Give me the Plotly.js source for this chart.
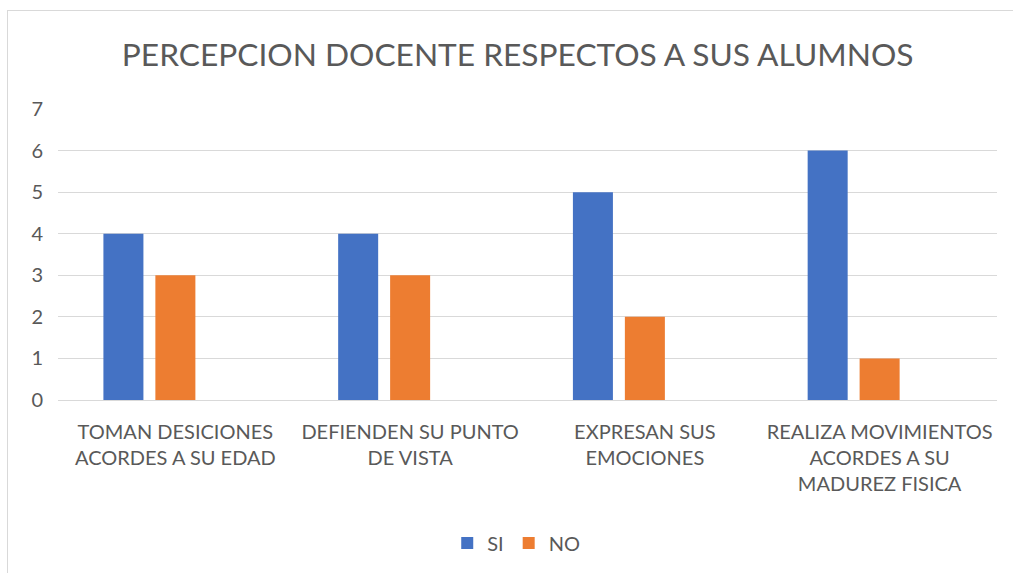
<!DOCTYPE html>
<html>
<head>
<meta charset="utf-8">
<script src="https://cdn.plot.ly/plotly-3.0.1.min.js"></script>
<style>
  html, body { margin: 0; padding: 0; background: #ffffff; }
  #wrap { position: absolute; left: 0; top: 0; width: 1013px; height: 573px; overflow: hidden; }
  #frame { position: absolute; left: 7px; top: 10px; width: 1020px; height: 580px; border: 1px solid #d9d9d9; box-sizing: border-box; pointer-events: none; }
  #chart { position: absolute; left: 0; top: 0; width: 1013px; height: 573px; }
</style>
</head>
<body>
<div id="wrap">
  <div id="chart"></div>
  <div id="frame"></div>
</div>
<script>
const categories = [
  "TOMAN DESICIONES<br>ACORDES A SU EDAD",
  "DEFIENDEN SU PUNTO<br>DE VISTA",
  "EXPRESAN SUS<br>EMOCIONES",
  "REALIZA MOVIMIENTOS<br>ACORDES A SU<br>MADUREZ FISICA"
];
const siValues = [4, 4, 5, 6];
const noValues = [3, 3, 2, 1];
const series3Values = [null, null, null, null];
const yTicks = [0, 1, 2, 3, 4, 5, 6, 7];

const textColor = "#595959";
const fontFamily = "Lato, 'Open Sans', sans-serif";

const data = [
  { type: "bar", name: "SI", x: categories, y: siValues, marker: { color: "#4472C4" } },
  { type: "bar", name: "NO", x: categories, y: noValues, marker: { color: "#ED7D31" } },
  { type: "bar", name: "Serie 3", x: categories, y: series3Values, marker: { color: "#A5A5A5" }, showlegend: false }
];

const layout = {
  width: 1013,
  height: 573,
  paper_bgcolor: "rgba(0,0,0,0)",
  plot_bgcolor: "rgba(0,0,0,0)",
  margin: { l: 58, r: 16, t: 109, b: 172 },
  title: {
    text: "PERCEPCION DOCENTE RESPECTOS A SUS ALUMNOS",
    font: { family: fontFamily, size: 31.7, color: textColor },
    x: 0.511, xanchor: "center",
    y: 0.905, yanchor: "middle"
  },
  barmode: "group",
  bargap: 0.336,
  bargroupgap: 0.23,
  xaxis: {
    type: "category",
    showgrid: false,
    showline: false,
    ticks: "",
    tickfont: { family: fontFamily, size: 20, color: textColor },
    ticklabelstandoff: 18,
    automargin: false
  },
  yaxis: {
    range: [0, 7],
    tickvals: yTicks,
    ticktext: yTicks.map(String),
    showgrid: true,
    gridcolor: "#d9d9d9",
    gridwidth: 1,
    zeroline: true,
    zerolinecolor: "#d9d9d9",
    zerolinewidth: 1,
    showline: false,
    ticks: "",
    tickfont: { family: fontFamily, size: 20, color: textColor },
    ticklabelstandoff: 14,
    automargin: false
  },
  showlegend: true,
  legend: {
    orientation: "h",
    x: 0.488, xanchor: "center",
    y: -0.486, yanchor: "middle",
    font: { family: fontFamily, size: 20, color: textColor },
    itemwidth: 30,
    traceorder: "normal"
  }
};

Plotly.newPlot("chart", data, layout, { displayModeBar: false, staticPlot: true });
</script>
</body>
</html>
